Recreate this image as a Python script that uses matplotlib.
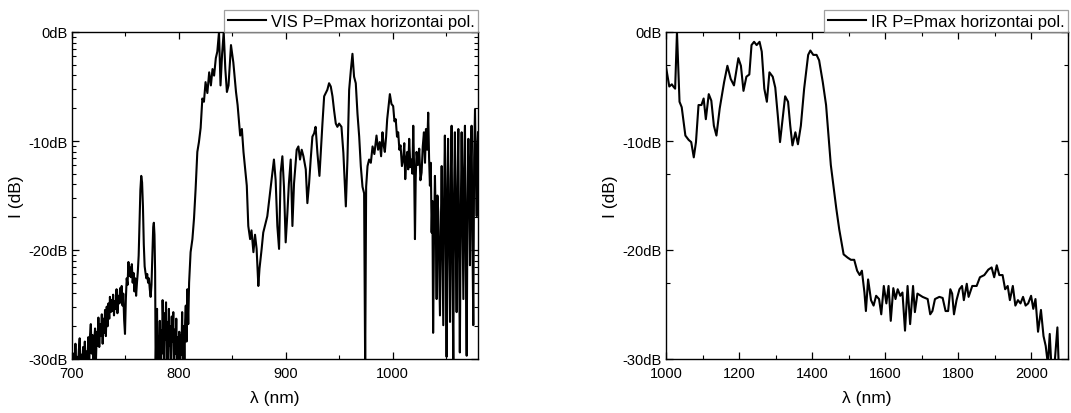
import math

import matplotlib.pyplot as plt
from matplotlib.ticker import FixedLocator, FuncFormatter, MultipleLocator

plt.rcParams["font.family"] = ["Liberation Sans", "DejaVu Sans"]

# VIS spectrum (nm, dB)
vis_wl = [
    700, 700.8, 701.6, 702.4, 703.2, 704, 704.8, 705.6, 706.4, 707.2,
    708, 708.8, 709.6, 710.4, 711.2, 712, 712.8, 713.6, 714.4, 715.2,
    716, 716.8, 717.6, 718.4, 719.2, 720, 720.8, 721.6, 722.4, 723.2,
    724, 724.7, 725.5, 726.3, 727.1, 727.9, 728.7, 729.5, 730.3, 730.9,
    731.7, 732.5, 733.3, 734.1, 734.9, 735.5, 736.3, 737, 737.8, 738.5,
    739.3, 740, 740.8, 741.7, 742.5, 743.5, 744.3, 745, 745.8, 746.5,
    747.3, 748, 748.8, 749.6, 750.4, 751.2, 752, 752.8, 753.6, 754.4,
    755.2, 756, 756.8, 757.6, 758.4, 759.2, 760, 760.8, 761.6, 762.4,
    763.2, 764, 764.8, 765.6, 766.4, 767.2, 768, 768.8, 769.6, 770.4,
    771.2, 772, 772.8, 773.6, 774.4, 775.2, 776, 776.6, 777.2, 777.8,
    778.3, 779, 779.6, 780.2, 780.9, 781.6, 782.2, 782.8, 783.5, 784.2,
    784.8, 785.4, 786, 786.7, 787.4, 788, 788.7, 789.4, 790, 790.7,
    791.4, 792, 792.7, 793.4, 794.1, 794.8, 795.5, 796.2, 796.9, 797.6,
    798.3, 799, 799.7, 800.4, 801, 801.7, 802.4, 803.1, 803.8, 804.5,
    805.2, 805.9, 806.5, 807.2, 808, 808.8, 809.6, 810.4, 811, 812.7,
    814.2, 815.7, 817.3, 818.8, 820.4, 822, 823.5, 825, 826.7, 828.4,
    830, 831.5, 833, 834.6, 836, 837.6, 839, 840.5, 842, 843.5,
    845, 846.5, 848.8, 851, 853.5, 855, 857.4, 859, 860.5, 862,
    863.6, 865, 866.7, 868, 869.8, 871.3, 872.8, 874.4, 875.5, 877.5,
    879, 881, 882.8, 885.3, 887.5, 889, 890.6, 892.2, 893.8, 895.3,
    896.9, 898.4, 900, 901.6, 903, 904.7, 906.3, 907.8, 910.3, 911.9,
    913.4, 915, 916.6, 918.8, 920.3, 921.9, 923.4, 925, 926.6, 928,
    929.7, 931.6, 932.8, 934.4, 936, 937.5, 939, 940.6, 942.2, 943.8,
    945.3, 946.9, 948.4, 950, 952.2, 954, 956.3, 957.8, 959.4, 961,
    962.5, 964, 965.6, 967.2, 968.8, 970.3, 971.9, 973.4, 974.4, 975.3,
    976.6, 978.1, 979.7, 981.3, 983, 985, 986.5, 988, 989.3, 990.6,
    991.7, 992.8, 994, 995, 996.3, 997.5, 999, 1000.6, 1001.8, 1003,
    1004.2, 1005.3, 1006.4, 1007.5, 1008.8, 1010, 1011, 1011.9, 1012.8, 1013.8,
    1014.7, 1015.6, 1016.7, 1017.8, 1018.6, 1019.4, 1020.2, 1021, 1021.7, 1022.5,
    1023.7, 1025, 1026.1, 1027.2, 1028.3, 1029.4, 1030.4, 1031.3, 1032.4, 1033.4,
    1034.2, 1035, 1035.8, 1036.6, 1037.3, 1038, 1038.8, 1039.7, 1040.5, 1041.3,
    1042, 1042.8, 1043.6, 1044.4, 1045.2, 1046, 1046.8, 1047.5, 1048.3, 1049,
    1049.8, 1050.6, 1051.3, 1052, 1052.9, 1053.8, 1054.5, 1055.3, 1056.1, 1056.9,
    1057.6, 1058.4, 1059.2, 1060, 1060.8, 1061.6, 1062.3, 1063, 1063.9, 1064.7,
    1065.5, 1066.3, 1067, 1067.8, 1068.6, 1069.4, 1070.2, 1071, 1071.8, 1072.5,
    1073.3, 1074, 1074.8, 1075.6, 1076.4, 1077.2, 1078, 1078.8, 1079.5, 1080,
]
vis_db = [
    -30.2, -31, -29.5, -31, -28.6, -31, -29.8, -31, -29.2, -28.1,
    -31, -29.6, -31, -28.9, -30.6, -28.4, -31, -29.3, -30.8, -28.0,
    -31, -27.9, -26.8, -29.5, -27.8, -31, -28.3, -27.2, -30.2, -27.5,
    -28.8, -26.2, -28.9, -26.8, -27.9, -25.9, -28.6, -26.3, -27.6, -25.5,
    -27.9, -25.2, -27.0, -24.9, -26.3, -24.3, -25.7, -24.6, -25.6, -24.1,
    -26.0, -24.7, -25.4, -23.6, -25.8, -24.2, -24.9, -23.5, -24.8, -23.3,
    -25.1, -24.0, -26.4, -27.7, -24.5, -22.6, -23.2, -21.1, -22.4, -21.6,
    -22.5, -21.3, -23.0, -22.1, -23.8, -22.6, -24.2, -23.0, -22.0, -20.5,
    -17.5, -14.5, -13.2, -13.8, -16.0, -19.5, -21.5, -22.1, -22.6, -22.2,
    -23.0, -22.6, -23.6, -24.3, -23.2, -20.5, -17.9, -17.5, -18.6, -22.0,
    -31, -27.0, -25.4, -31, -27.9, -29.0, -26.5, -31, -27.4, -29.5,
    -24.6, -26.8, -31, -25.8, -28.2, -24.8, -30.5, -26.6, -31, -25.4,
    -28.8, -27.0, -31, -26.1, -28.4, -25.7, -31, -27.3, -29.5, -26.3,
    -31, -28.0, -30.2, -27.5, -31, -27.8, -29.6, -25.7, -31, -27.0,
    -31, -26.5, -25.1, -28.4, -23.6, -26.8, -23.0, -21.5, -20.2, -19.0,
    -17.1, -14.4, -11.0, -10.1, -8.8, -6.1, -6.4, -4.6, -5.6, -3.7,
    -4.9, -3.4, -4.0, -2.4, -1.8, 0, -4.9, -2.0, 0, -3.4,
    -5.5, -4.9, -1.2, -2.8, -5.5, -6.7, -9.5, -8.9, -11.0, -12.5,
    -14.1, -17.8, -19.0, -18.2, -20.2, -18.6, -19.9, -23.3, -21.7, -19.9,
    -18.4, -17.6, -16.9, -14.8, -12.9, -11.7, -13.6, -17.8, -19.9, -12.9,
    -11.4, -14.2, -19.3, -16.6, -13.9, -11.7, -17.8, -13.9, -10.8, -10.5,
    -11.7, -10.8, -11.4, -12.6, -15.7, -13.9, -11.7, -9.6, -9.3, -8.7,
    -11.1, -13.2, -11.1, -8.4, -5.9, -5.6, -5.3, -4.7, -5.0, -5.9,
    -7.2, -8.4, -8.7, -8.4, -8.7, -11.1, -16.0, -11.7, -5.3, -3.5,
    -2.0, -4.1, -4.7, -7.5, -9.6, -12.3, -14.2, -14.8, -31, -14.2,
    -12.3, -11.7, -12.0, -10.5, -11.2, -9.5, -10.8, -10.1, -11.4, -9.2,
    -10.4, -11.0, -9.6, -8.0, -6.8, -5.7, -6.6, -6.8, -8.2, -8.0,
    -9.6, -9.2, -10.8, -10.4, -12.3, -11.7, -10.2, -13.5, -11.8, -11.0,
    -12.6, -9.8, -12.4, -11.7, -13.0, -8.6, -12.5, -19.0, -13.4, -11.0,
    -12.2, -10.7, -13.6, -12.9, -10.5, -9.2, -12.0, -8.9, -10.8, -7.4,
    -11.5, -14.1, -12.0, -18.4, -15.5, -27.6, -19.0, -13.2, -17.5, -24.5,
    -15.0, -16.5, -21.0, -26.0, -18.2, -12.3, -20.5, -26.9, -14.8, -9.5,
    -17.0, -29.8, -16.0, -9.8, -19.5, -26.6, -13.5, -8.6, -22.0, -30.5,
    -15.0, -9.2, -18.8, -25.7, -14.2, -8.9, -20.5, -29.4, -16.5, -9.2,
    -17.0, -24.5, -12.5, -8.6, -21.5, -29.7, -15.5, -9.8, -14.5, -21.4,
    -12.0, -8.6, -19.0, -26.9, -11.5, -7.1, -13.0, -16.9, -10.5, -9.2,
]

# IR spectrum (nm, dB)
ir_wl = [
    1000, 1009, 1016, 1020, 1025, 1030, 1037, 1043, 1053, 1062, 1069, 1076,
    1082, 1089, 1097, 1103, 1109, 1117, 1124, 1131, 1138, 1147, 1159, 1168,
    1177, 1186, 1198, 1205, 1212, 1220, 1228, 1234, 1241, 1248, 1256, 1262,
    1269, 1276, 1283, 1292, 1299, 1306, 1312, 1320, 1326, 1334, 1340, 1346,
    1354, 1361, 1369, 1378, 1389, 1395, 1403, 1412, 1419, 1429, 1438, 1444,
    1451, 1458, 1466, 1474, 1486, 1497, 1506, 1515, 1523, 1530, 1536, 1543,
    1547, 1553, 1561, 1568, 1575, 1583, 1589, 1596, 1603, 1609, 1615, 1622,
    1628, 1634, 1641, 1647, 1654, 1661, 1668, 1676, 1681, 1688, 1702, 1716,
    1723, 1729, 1736, 1748, 1757, 1765, 1772, 1778, 1783, 1788, 1795, 1803,
    1810, 1815, 1823, 1828, 1838, 1850, 1859, 1871, 1882, 1891, 1898, 1905,
    1912, 1921, 1928, 1935, 1941, 1949, 1956, 1963, 1970, 1977, 1984, 1991,
    1999, 2005, 2011, 2018, 2026, 2033, 2039, 2045, 2050, 2055, 2062, 2071,
    2075, 2082, 2090, 2100,
]
ir_db = [
    -3.2, -5.0, -4.8, -5.0, -5.2, 0, -6.4, -6.9, -9.5, -9.9, -10.1, -11.5,
    -10.1, -6.7, -6.7, -6.1, -8.0, -5.7, -6.3, -8.6, -9.5, -7.0, -4.6, -3.1,
    -4.3, -4.9, -2.4, -3.1, -5.4, -4.1, -3.9, -1.2, -0.9, -1.2, -0.9, -1.8,
    -5.2, -6.4, -3.7, -4.1, -5.1, -7.7, -10.1, -7.7, -5.9, -6.4, -8.6, -10.4,
    -9.2, -10.3, -8.6, -5.2, -2.1, -1.7, -2.1, -2.1, -2.6, -4.6, -6.7, -9.2,
    -12.2, -14.1, -16.2, -18.1, -20.4, -20.7, -20.9, -20.9, -21.9, -22.3,
    -21.9, -23.9,
    -25.6, -22.7, -24.6, -25.1, -24.2, -24.5, -25.9, -23.3, -24.9, -23.3,
    -26.5, -23.5,
    -24.5, -23.6, -24.2, -23.9, -27.4, -23.3, -26.8, -23.3, -25.7, -24.0,
    -24.3, -24.5,
    -25.9, -25.6, -24.5, -24.3, -24.4, -25.6, -25.6, -23.6, -24.0, -25.9,
    -24.6, -23.6,
    -23.3, -24.6, -23.1, -24.3, -23.3, -23.3, -22.5, -22.3, -21.8, -21.6,
    -22.5, -21.4,
    -22.3, -22.3, -23.6, -23.3, -24.6, -23.3, -25.1, -24.6, -24.9, -24.3,
    -25.1, -24.9,
    -24.2, -25.4, -24.5, -27.5, -25.5, -27.9, -28.8, -30.5, -27.7, -31,
    -31, -27.1,
    -31, -31, -31, -31,
]

vis_label = "VIS P=Pmax horizontai pol."
ir_label = "IR P=Pmax horizontai pol."

W, H = 1071, 414
fig = plt.figure(figsize=(W / 100, H / 100), dpi=100)
ax_vis = fig.add_axes([72 / W, 54 / H, 406 / W, 327 / H])
ax_ir = fig.add_axes([666 / W, 54 / H, 402 / W, 327 / H])


def db_minor(mult):
    # minor ticks where a log intensity axis would put them, in dB
    return [-10 * d + 10 * math.log10(k / 10) for d in range(3) for k in mult]


def style(ax, xmin, xmax, major, minor, yminor):
    ax.set_xlim(xmin, xmax)
    ax.set_ylim(-30, 0)
    ax.xaxis.set_major_locator(MultipleLocator(major))
    ax.xaxis.set_minor_locator(MultipleLocator(minor))
    ax.yaxis.set_major_locator(FixedLocator([-30, -20, -10, 0]))
    ax.yaxis.set_minor_locator(FixedLocator(yminor))
    ax.yaxis.set_major_formatter(FuncFormatter(lambda v, p: f"{int(round(v))}dB"))
    ax.tick_params(which="both", direction="in", top=True, right=True,
                   labelsize=10.5)
    ax.tick_params(axis="x", pad=5)
    ax.tick_params(axis="y", pad=3)
    ax.tick_params(which="major", length=5, width=0.9)
    ax.tick_params(which="minor", length=3, width=0.8)
    for s in ax.spines.values():
        s.set_linewidth(1.0)
    ax.set_xlabel("λ (nm)", fontsize=12.5, labelpad=7)
    ax.set_ylabel("I (dB)", fontsize=12.5, labelpad=3)
    leg = ax.legend(loc="lower right", bbox_to_anchor=(1.0, 1.0),
                    borderaxespad=0, fontsize=12, frameon=True, fancybox=False,
                    handlelength=2.3, handletextpad=0.3, borderpad=0.2)
    leg.get_frame().set_edgecolor("#888888")
    leg.get_frame().set_linewidth(0.9)


ax_vis.plot(vis_wl, vis_db, color="black", lw=1.5, label=vis_label)
style(ax_vis, 700, 1080, 100, 50, db_minor(range(2, 10)))

ax_ir.plot(ir_wl, ir_db, color="black", lw=1.5, label=ir_label)
style(ax_ir, 1000, 2100, 200, 100, db_minor([5]))

fig.savefig("out.png", dpi=100)
